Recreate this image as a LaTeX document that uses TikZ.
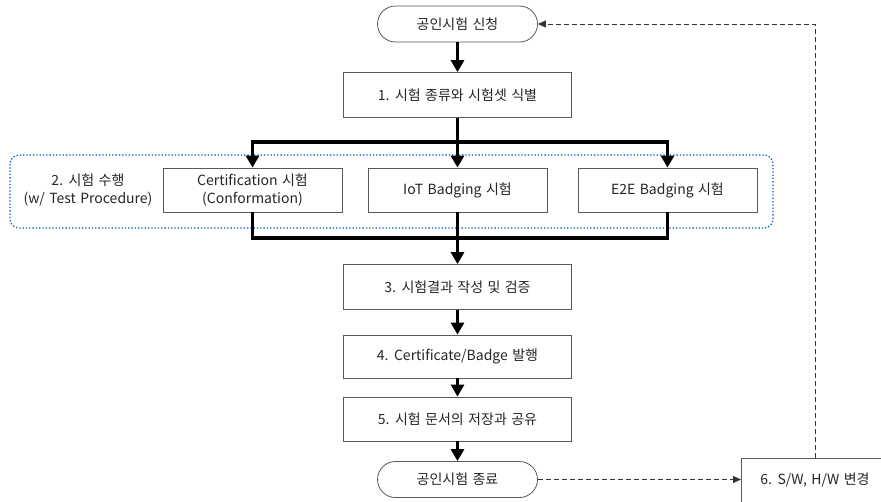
\documentclass[tikz,border=0pt]{standalone}
\usepackage{fontspec}
\setmainfont{Noto Sans CJK KR}[WordSpace=1.4]
\usetikzlibrary{shapes.misc,arrows.meta}
\begin{document}
\begin{tikzpicture}[x=1pt,y=-1pt,
  every node/.style={font=\fontsize{14}{18}\selectfont, text=black!85},
  boxnode/.style={draw=black!65, line width=0.8pt, rectangle, minimum width=228pt, minimum height=45pt, inner sep=0pt, fill=white},
  subbox/.style={draw=black!65, line width=0.8pt, rectangle, minimum width=179pt, minimum height=44pt, inner sep=0pt, align=center, fill=white},
  termnode/.style={draw=black!65, line width=0.8pt, rounded rectangle, minimum width=160pt, minimum height=36pt, inner sep=0pt, fill=white},
  thickarrow/.style={line width=3.6pt, -{Triangle[width=13pt,length=12pt]}},
  thickline/.style={line width=3.6pt},
  dasharrow/.style={line width=0.8pt, black!80, dash pattern=on 5pt off 3pt, -{Triangle[width=7pt,length=8pt]}}
]
\useasboundingbox (0,0) rectangle (881,501);
\clip (0,0) rectangle (881,501);
\fill[white] (0,0) rectangle (881,501);

% dotted group
\draw[blue!60!cyan!80!black, dotted, line width=1.3pt, rounded corners=9pt] (10,155) rectangle (773,228);
\node[align=center] (lbl) at (88,190) {2. 시험 수행\\(w/ Test Procedure)};

\node[termnode] (start) at (457.5,24) {공인시험 신청};
\node[boxnode] (b1) at (457.5,95) {1. 시험 종류와 시험셋 식별};
\node[subbox] (cert) at (252.5,190) {Certification 시험\\(Conformation)};
\node[subbox] (iot) at (457.5,190) {IoT Badging 시험};
\node[subbox] (e2e) at (667.5,190) {E2E Badging 시험};
\node[boxnode] (b3) at (457.5,287) {3. 시험결과 작성 및 검증};
\node[boxnode, minimum height=43pt] (b4) at (457.5,356.5) {4. Certificate/Badge 발행};
\node[boxnode, minimum height=44pt] (b5) at (457.5,419) {5. 시험 문서의 저장과 공유};
\node[termnode] (end) at (457.5,479.5) {공인시험 종료};
\node[boxnode, minimum width=150pt, minimum height=50pt, anchor=north west] (b6) at (741,458) {};
\node (b6t) at (815,480) {6. S/W, H/W 변경};

\coordinate (split) at (457.5,142);
\coordinate (merge) at (457.5,238);

\draw[thickarrow] (start.south) -- (b1.north);
\draw[thickline] (b1.south) -- (split);
\draw[thickarrow] (split) -| (cert.north);
\draw[thickarrow] (split) -| (e2e.north);
\draw[thickarrow] (b1.south) -- (iot.north);
\draw[thickline] (cert.south) |- (merge);
\draw[thickline] (e2e.south) |- (merge);
\draw[thickarrow] (iot.south) -- (b3.north);
\draw[thickarrow] (b3.south) -- (b4.north);
\draw[thickarrow] (b4.south) -- (b5.north);
\draw[thickarrow] (b5.south) -- (end.north);

\draw[dasharrow] (end.east) -- (b6.west |- end.east);
\draw[dasharrow] (b6.north -| b6t.north) |- (start.east);
\end{tikzpicture}
\end{document}
